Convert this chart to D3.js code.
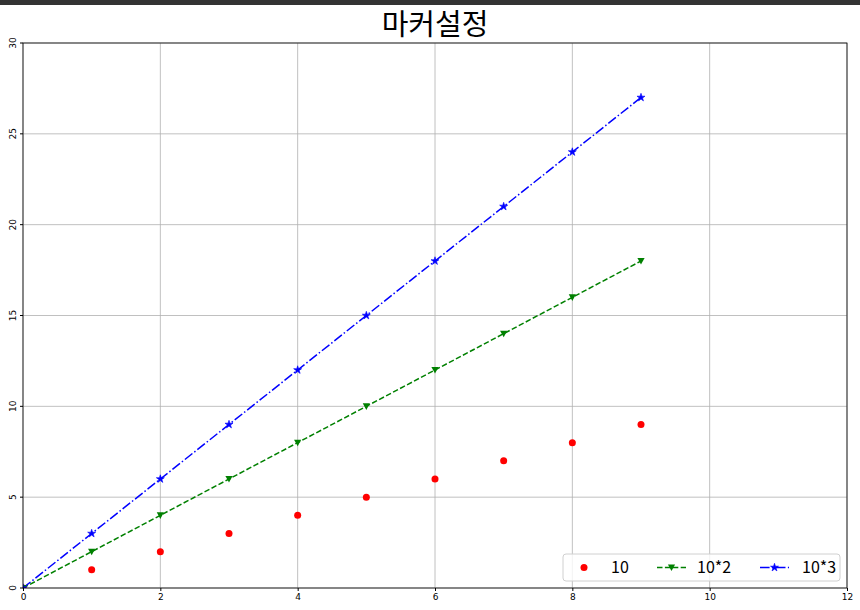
<!DOCTYPE html>
<html><head><meta charset="utf-8">
<script src="https://cdn.jsdelivr.net/npm/d3@7"></script>
<style>
body{margin:0;background:#fff;}
svg{display:block;font-family:"Noto Sans CJK KR","DejaVu Sans",sans-serif;}
</style></head>
<body><svg id="c" width="860" height="610"></svg>
<script>
const xs = [0,1,2,3,4,5,6,7,8,9];
const s1 = [0,1,2,3,4,5,6,7,8,9];
const s2 = [0,2,4,6,8,10,12,14,16,18];
const s3 = [0,3,6,9,12,15,18,21,24,27];
const xTicks = [0,2,4,6,8,10,12];
const yTicks = [0,5,10,15,20,25,30];
const labels = ["10","10*2","10*3"];
const title = "마커설정";

const svg = d3.select("#c");
svg.append("rect").attr("x",0).attr("y",0).attr("width",860).attr("height",5).attr("fill","#333333");
const L=23,R=847,T=43,B=588;
const x = d3.scaleLinear().domain([0,12]).range([L,R]);
const y = d3.scaleLinear().domain([0,30]).range([B,T]);

svg.append("text").attr("x",435).attr("y",35).attr("text-anchor","middle")
  .attr("font-size",29).attr("fill","#000").text(title);

// grid
const g = svg.append("g");
g.selectAll(".gx").data(xTicks).join("line").attr("x1",d=>x(d)).attr("x2",d=>x(d))
  .attr("y1",T).attr("y2",B).attr("stroke","#b0b0b0").attr("stroke-width",0.8);
g.selectAll(".gy").data(yTicks).join("line").attr("y1",d=>y(d)).attr("y2",d=>y(d))
  .attr("x1",L).attr("x2",R).attr("stroke","#b0b0b0").attr("stroke-width",0.8);

// clip
svg.append("clipPath").attr("id","clip").append("rect").attr("x",L).attr("y",T).attr("width",R-L).attr("height",B-T);
const p = svg.append("g").attr("clip-path","url(#clip)");

const line = d3.line().x((d,i)=>x(xs[i])).y(d=>y(d));
p.append("path").datum(s2).attr("d",line).attr("fill","none").attr("stroke","green")
  .attr("stroke-width",1.5).attr("stroke-dasharray","5.5,2.4");
p.append("path").datum(s3).attr("d",line).attr("fill","none").attr("stroke","blue")
  .attr("stroke-width",1.5).attr("stroke-dasharray","9.6,2.4,1.5,2.4");

const tri = "M-3.6,-3 L3.6,-3 L0,3.6 Z";
const star = d3.symbol().type(d3.symbolStar).size(20)();
p.selectAll(".m1").data(s1).join("circle").attr("cx",(d,i)=>x(xs[i])).attr("cy",d=>y(d)).attr("r",3.5).attr("fill","red");
p.selectAll(".m2").data(s2).join("path").attr("d",tri).attr("transform",(d,i)=>`translate(${x(xs[i])},${y(d)})`).attr("fill","green");
p.selectAll(".m3").data(s3).join("path").attr("d",star).attr("transform",(d,i)=>`translate(${x(xs[i])},${y(d)})`).attr("fill","blue").attr("stroke","blue").attr("stroke-width",0.6);

// spines
svg.append("rect").attr("x",L).attr("y",T).attr("width",R-L).attr("height",B-T).attr("fill","none").attr("stroke","#000").attr("stroke-width",0.8);

// axes
const xa = svg.append("g").attr("transform",`translate(0,${B})`)
  .call(d3.axisBottom(x).tickValues(xTicks).tickSize(3).tickPadding(3).tickFormat(d3.format("d")));
xa.select(".domain").remove();
xa.selectAll("text").attr("font-size",9).attr("font-family","DejaVu Sans").attr("fill","#000");
const ya = svg.append("g").attr("transform",`translate(${L},0)`)
  .call(d3.axisLeft(y).tickValues(yTicks).tickSize(3).tickPadding(3).tickFormat(d3.format("d")));
ya.select(".domain").remove();
ya.selectAll(".tick").attr("transform",null);
ya.selectAll(".tick line").each(function(d){d3.select(this).attr("y1",y(d)).attr("y2",y(d));});
ya.selectAll("text").attr("font-size",9).attr("font-family","DejaVu Sans").attr("fill","#000")
  .attr("text-anchor","middle").attr("x",0).attr("y",0).attr("dy","0.35em")
  .attr("transform",d=>`translate(-10,${y(d)}) rotate(-90)`);

// legend
const lg = svg.append("g");
lg.append("rect").attr("x",563).attr("y",554).attr("width",277).attr("height",27).attr("rx",3)
  .attr("fill","#fff").attr("fill-opacity",0.8).attr("stroke","#d0d0d0").attr("stroke-width",1);
const cy = 567.5;
lg.append("circle").attr("cx",584).attr("cy",cy).attr("r",3.5).attr("fill","red");
lg.append("line").attr("x1",657).attr("x2",686).attr("y1",cy).attr("y2",cy).attr("stroke","green").attr("stroke-width",1.5).attr("stroke-dasharray","5.5,2.4");
lg.append("path").attr("d",tri).attr("transform",`translate(671.5,${cy})`).attr("fill","green");
lg.append("line").attr("x1",760).attr("x2",789).attr("y1",cy).attr("y2",cy).attr("stroke","blue").attr("stroke-width",1.5).attr("stroke-dasharray","9.6,2.4,1.5,2.4");
lg.append("path").attr("d",star).attr("transform",`translate(774.5,${cy})`).attr("fill","blue").attr("stroke","blue").attr("stroke-width",0.6);
const tx = [611,697,802];
labels.forEach((t,i)=>lg.append("text").attr("x",tx[i]).attr("y",cy).attr("dy","0.36em")
  .attr("font-size",16).attr("fill","#000").text(t));
</script></body></html>
